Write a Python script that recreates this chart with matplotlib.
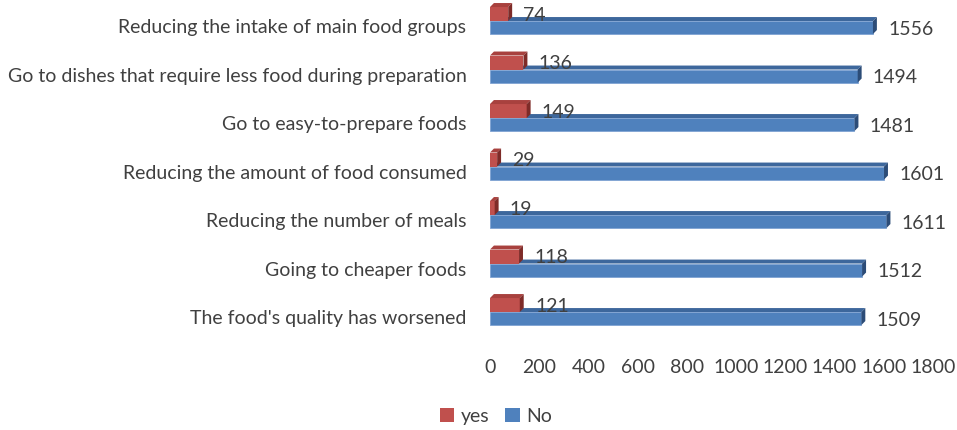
import matplotlib
matplotlib.use("Agg")
import matplotlib.pyplot as plt
from matplotlib.patches import Polygon, Patch

categories = [
    "Reducing the intake of main food groups",
    "Go to dishes that require less food during preparation",
    "Go to easy-to-prepare foods",
    "Reducing the amount of food consumed",
    "Reducing the number of meals",
    "Going to cheaper foods",
    "The food's quality has worsened",
]
yes_values = [74, 136, 149, 29, 19, 118, 121]
no_values = [1556, 1494, 1481, 1601, 1611, 1512, 1509]
xticks = [0, 200, 400, 600, 800, 1000, 1200, 1400, 1600, 1800]

RED, RED_TOP, RED_SIDE = "#C0504D", "#A8413E", "#7E2B28"
BLUE, BLUE_TOP, BLUE_SIDE = "#4F81BD", "#3D679C", "#2C4C77"
TXT = "#404040"

plt.rcParams['font.family'] = ['Lato', 'DejaVu Sans']
FS = 14

fig = plt.figure(figsize=(9.57, 4.31), dpi=100)
ax = fig.add_axes([490/957, 1-345/431, 443/957, 345/431])
ax.set_xlim(0, 1800)
ax.set_ylim(6.577, -0.536)

dx, dy = 16, 0.082
red_top, red_bot = -0.371, -0.082
blue_top, blue_bot = -0.082, 0.186

for i, (y, n) in enumerate(zip(yes_values, no_values)):
    # blue bar (No)
    ax.barh(i + (blue_top + blue_bot)/2, n, height=blue_bot - blue_top,
            color=BLUE, edgecolor="#7FA3D3", linewidth=0.6, zorder=2)
    ax.add_patch(Polygon([(0, i+blue_top), (n, i+blue_top), (n+dx, i+blue_top-dy), (dx, i+blue_top-dy)],
                         closed=True, facecolor=BLUE_TOP, edgecolor='none', zorder=2))
    ax.add_patch(Polygon([(n, i+blue_top), (n+dx, i+blue_top-dy), (n+dx, i+blue_bot-dy), (n, i+blue_bot)],
                         closed=True, facecolor=BLUE_SIDE, edgecolor='none', zorder=2))
    # red bar (yes)
    ax.barh(i + (red_top + red_bot)/2, y, height=red_bot - red_top,
            color=RED, edgecolor='none', zorder=3)
    ax.add_patch(Polygon([(0, i+red_top), (y, i+red_top), (y+dx, i+red_top-dy), (dx, i+red_top-dy)],
                         closed=True, facecolor=RED_TOP, edgecolor='none', zorder=3))
    ax.add_patch(Polygon([(y, i+red_top), (y+dx, i+red_top-dy), (y+dx, i+red_bot-dy), (y, i+red_bot)],
                         closed=True, facecolor=RED_SIDE, edgecolor='none', zorder=3))
    ax.text(y + 62, i + (red_top + red_bot)/2, str(y), fontsize=FS, color=TXT,
            va='center', ha='left', zorder=5)
    ax.text(n + 62, i + 0.07, str(n), fontsize=FS, color=TXT,
            va='center', ha='left', zorder=5)

ax.set_yticks(range(len(categories)))
ax.set_yticklabels(categories)
ax.set_xticks(xticks)
ax.set_xticklabels([str(t) for t in xticks])
ax.tick_params(axis='both', length=0, labelsize=FS, labelcolor=TXT)
ax.tick_params(axis='y', pad=17)
ax.tick_params(axis='x', pad=10)
for s in ax.spines.values():
    s.set_visible(False)

handles = [Patch(facecolor=RED, label="yes"), Patch(facecolor=BLUE, label="No")]
fig.legend(handles=handles, loc='center', bbox_to_anchor=(496/957, 1-417/431), ncol=2,
           frameon=False, fontsize=FS, handlelength=0.75, handleheight=0.75,
           handletextpad=0.35, columnspacing=0.8, labelcolor=TXT)

fig.savefig("out.png", dpi=100)
